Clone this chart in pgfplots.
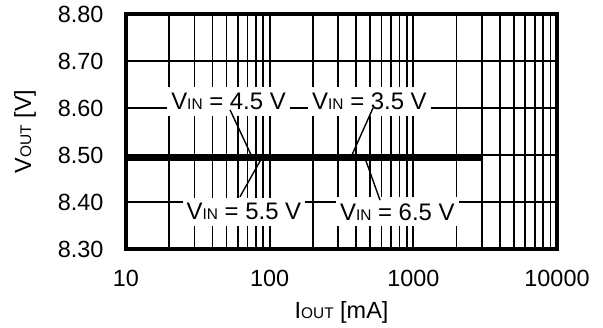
\documentclass[border=0pt]{standalone}
\usepackage{pgfplots}
\pgfplotsset{compat=1.18}
\usepackage{fontspec}
\setmainfont{Liberation Sans}
\usetikzlibrary{calc}
\newcommand{\smc}[1]{{\fontsize{15.5}{16}\selectfont #1}}
\begin{document}
\begin{tikzpicture}
\begin{axis}[
  name=ax,
  xmode=log, log basis x=10,
  scale only axis, width=431bp, height=235bp,
  xmin=10, xmax=10000, ymin=8.3, ymax=8.8,
  xtick={10,100,1000,10000}, xticklabels={10,100,1000,10000},
  minor xtick={20,30,40,50,60,70,80,90,200,300,400,500,600,700,800,900,2000,3000,4000,5000,6000,7000,8000,9000},
  ytick={8.3,8.4,8.5,8.6,8.7,8.8}, yticklabels={8.30,8.40,8.50,8.60,8.70,8.80},
  grid=both,
  major grid style={black, line width=1.7bp},
  minor grid style={black, line width=1.7bp},
  major tick length=0pt, minor tick length=0pt,
  axis line style={line width=4bp},
  tick label style={font=\fontsize{23.5}{27}\selectfont},
  xticklabel style={yshift=-18bp},
  yticklabel style={xshift=-19bp},
  label style={font=\fontsize{23.5}{27}\selectfont},
  xlabel={I\smc{OUT} [mA]}, ylabel={V\smc{OUT} [V]},
  xlabel style={yshift=-8bp},
  ylabel style={yshift=15bp},
]
\addplot[black, line width=6.5bp] coordinates {(10,8.495) (3000,8.495)};
\tikzset{lbl/.style={fill=white, inner xsep=4bp, inner ysep=6bp, font=\fontsize{24}{28}\selectfont}}
\node[lbl] at (axis cs:51.7,8.614) {V\smc{IN} = 4.5 V};
\node[lbl] at (axis cs:495,8.614) {V\smc{IN} = 3.5 V};
\node[lbl] at (axis cs:66.2,8.379) {V\smc{IN} = 5.5 V};
\node[lbl] at (axis cs:774,8.379) {V\smc{IN} = 6.5 V};
\draw[black, line width=1.4bp] (axis cs:53.0,8.596) -- (axis cs:75.4,8.496);
\draw[black, line width=1.4bp] (axis cs:62.1,8.411) -- (axis cs:88.3,8.494);
\draw[black, line width=1.4bp] (axis cs:524,8.600) -- (axis cs:374,8.500);
\draw[black, line width=1.4bp] (axis cs:586,8.404) -- (axis cs:460,8.494);
\end{axis}
\path ($(ax.south west)+(-126bp,-79bp)$) rectangle ($(ax.north east)+(46bp,14bp)$);
\end{tikzpicture}
\end{document}
